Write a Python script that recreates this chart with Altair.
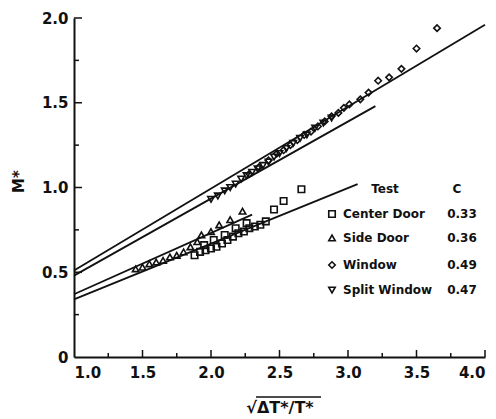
import altair as alt
import pandas as pd

# ---------------- data ----------------
series_names = ["Center Door", "Side Door", "Window", "Split Window"]
c_values = ["0.33", "0.36", "0.49", "0.47"]
shapes = ["square", "triangle-up", "diamond", "triangle-down"]

center_x = [1.88, 1.92, 1.96, 2.00, 2.04, 2.08, 2.12, 2.16, 2.20, 2.24, 2.28, 2.32,
            2.36, 2.40, 2.46, 2.53, 2.66, 1.95, 2.02, 2.10, 2.18, 2.26]
center_y = [0.60, 0.62, 0.63, 0.64, 0.65, 0.67, 0.69, 0.71, 0.73, 0.74, 0.76, 0.77,
            0.78, 0.80, 0.87, 0.92, 0.99, 0.66, 0.69, 0.72, 0.76, 0.79]

side_x = [1.45, 1.50, 1.55, 1.60, 1.65, 1.70, 1.75, 1.80, 1.85, 1.90, 1.93, 2.00, 2.06, 2.14, 2.23]
side_y = [0.52, 0.53, 0.55, 0.56, 0.57, 0.59, 0.60, 0.62, 0.65, 0.68, 0.72, 0.74, 0.78, 0.81, 0.86]

window_x = [2.28, 2.35, 2.42, 2.48, 2.53, 2.58, 2.63, 2.68, 2.73, 2.78, 2.83, 2.88,
            2.93, 2.97, 3.01, 3.09, 3.15, 3.22, 3.30, 3.39, 3.50, 3.65]
window_y = [1.08, 1.12, 1.16, 1.20, 1.22, 1.25, 1.28, 1.31, 1.33, 1.36, 1.39, 1.42,
            1.44, 1.47, 1.49, 1.52, 1.56, 1.63, 1.65, 1.70, 1.82, 1.94]

split_x = [2.00, 2.05, 2.10, 2.14, 2.18, 2.22, 2.26, 2.30, 2.34, 2.38, 2.42, 2.46,
           2.50, 2.55, 2.60, 2.65, 2.70, 2.76, 2.82, 2.88]
split_y = [0.93, 0.95, 0.98, 1.00, 1.02, 1.05, 1.07, 1.09, 1.11, 1.13, 1.15, 1.18,
           1.20, 1.23, 1.26, 1.29, 1.31, 1.35, 1.38, 1.41]

# fitted lines: start / end points
line_x0 = [1.0, 1.0, 1.0, 1.0]
line_y0 = [0.34, 0.37, 0.51, 0.48]
line_x1 = [3.07, 2.30, 4.00, 3.20]
line_y1 = [1.02, 0.84, 1.96, 1.48]

x_tick_values = [1.0, 1.5, 2.0, 2.5, 3.0, 3.5, 4.0]
x_minor_values = [1.25, 1.75, 2.25, 2.75, 3.25, 3.75]
y_tick_values = [0, 0.5, 1.0, 1.5, 2.0]
y_minor_values = [0.25, 0.75, 1.25, 1.75]

# ---------------- tables ----------------
frames = []
for name, xs_, ys_ in zip(series_names, [center_x, side_x, window_x, split_x],
                          [center_y, side_y, window_y, split_y]):
    frames.append(pd.DataFrame({"series": name, "x": xs_, "y": ys_}))
pts = pd.concat(frames, ignore_index=True)

lines = pd.DataFrame(
    [{"series": n, "x": a, "y": b} for n, a, b in zip(series_names, line_x0, line_y0)]
    + [{"series": n, "x": a, "y": b} for n, a, b in zip(series_names, line_x1, line_y1)]
)

W, H = 411, 339
FONT = "DejaVu Sans"
INK = "#111111"

xsc = alt.Scale(domain=[1, 4], nice=False, zero=False)
ysc = alt.Scale(domain=[0, 2], nice=False, zero=False)
shape_scale = alt.Scale(domain=series_names, range=shapes)

x_title = "\u221a\u0394T*/T*"

x_enc = alt.X("x:Q", scale=xsc, axis=alt.Axis(
    values=x_tick_values, format=".1f", tickSize=0, grid=False,
    labelFont=FONT, labelFontSize=15, labelFontWeight="bold", labelColor=INK,
    labelPadding=8, domainColor=INK, domainWidth=2,
    title=x_title, titleFont=FONT, titleFontSize=16, titleFontWeight="bold",
    titleColor=INK, titleY=55, titleBaseline="alphabetic"))
y_enc = alt.Y("y:Q", scale=ysc, axis=alt.Axis(
    values=y_tick_values, labelExpr="datum.value == 0 ? '0' : format(datum.value, '.1f')",
    tickSize=0, grid=False,
    labelFont=FONT, labelFontSize=15, labelFontWeight="bold", labelColor=INK,
    labelPadding=6, domainColor=INK, domainWidth=2,
    title="M*", titleFont=FONT, titleFontSize=15, titleFontWeight="bold",
    titleColor=INK, titleX=-56, titleY=163, titleAngle=-90, titleBaseline="middle"))

points = alt.Chart(pts).mark_point(filled=False, color=INK, size=42, strokeWidth=1.6,
                                   opacity=1).encode(
    x=x_enc, y=y_enc,
    shape=alt.Shape("series:N", scale=shape_scale, legend=None),
)

fit = alt.Chart(lines).mark_line(color=INK, strokeWidth=1.8).encode(
    x=alt.X("x:Q", scale=xsc), y=alt.Y("y:Q", scale=ysc), detail="series:N")

# inward ticks
def xticks(vals, length):
    return alt.Chart(pd.DataFrame({"v": vals})).mark_rule(color=INK, strokeWidth=1.5).encode(
        x=alt.X("v:Q", scale=xsc), y=alt.value(H), y2=alt.value(H - length))

def yticks(vals, length):
    return alt.Chart(pd.DataFrame({"v": vals})).mark_rule(color=INK, strokeWidth=1.5).encode(
        y=alt.Y("v:Q", scale=ysc), x=alt.value(0), x2=alt.value(length))

ticks = [xticks(x_tick_values[1:], 7), xticks(x_minor_values, 4),
         yticks(y_tick_values[1:], 8), yticks(y_minor_values, 5)]

# overline of the square root in the x title
one = pd.DataFrame({"k": [0]})
overline = alt.Chart(one).mark_rule(color=INK, strokeWidth=1.6, clip=False).encode(
    x=alt.value(182), x2=alt.value(247), y=alt.value(379))

# legend (drawn as text + symbols)
leg_rows = [196, 220, 247, 272]
legend_layers = []
txt = dict(font=FONT, fontSize=12, fontWeight="bold", color=INK, baseline="middle")
hdr = pd.DataFrame({"t": ["Test", "C"]})
legend_layers.append(alt.Chart(hdr.iloc[[0]]).mark_text(align="center", **txt).encode(
    x=alt.value(311), y=alt.value(171), text="t:N"))
legend_layers.append(alt.Chart(hdr.iloc[[1]]).mark_text(align="center", **txt).encode(
    x=alt.value(383), y=alt.value(171), text="t:N"))
for i, (name, c) in enumerate(zip(series_names, c_values)):
    row = pd.DataFrame({"series": [name], "c": [c]})
    legend_layers.append(alt.Chart(row).mark_point(filled=False, color=INK, size=42,
                                                   strokeWidth=1.6, opacity=1).encode(
        x=alt.value(258), y=alt.value(leg_rows[i]),
        shape=alt.Shape("series:N", scale=shape_scale, legend=None)))
    legend_layers.append(alt.Chart(row).mark_text(align="left", **txt).encode(
        x=alt.value(269), y=alt.value(leg_rows[i]), text="series:N"))
    legend_layers.append(alt.Chart(row).mark_text(align="center", **txt).encode(
        x=alt.value(388), y=alt.value(leg_rows[i]), text="c:N"))

chart = alt.layer(points, fit, *ticks, overline, *legend_layers).properties(
    width=W, height=H,
    autosize=alt.AutoSizeParams(type="none"),
    padding={"left": 74, "top": 18, "right": 11, "bottom": 62},
    background="white",
).configure_view(stroke=None)

chart.save("out.html", embed_options={"renderer": "svg", "actions": False})
